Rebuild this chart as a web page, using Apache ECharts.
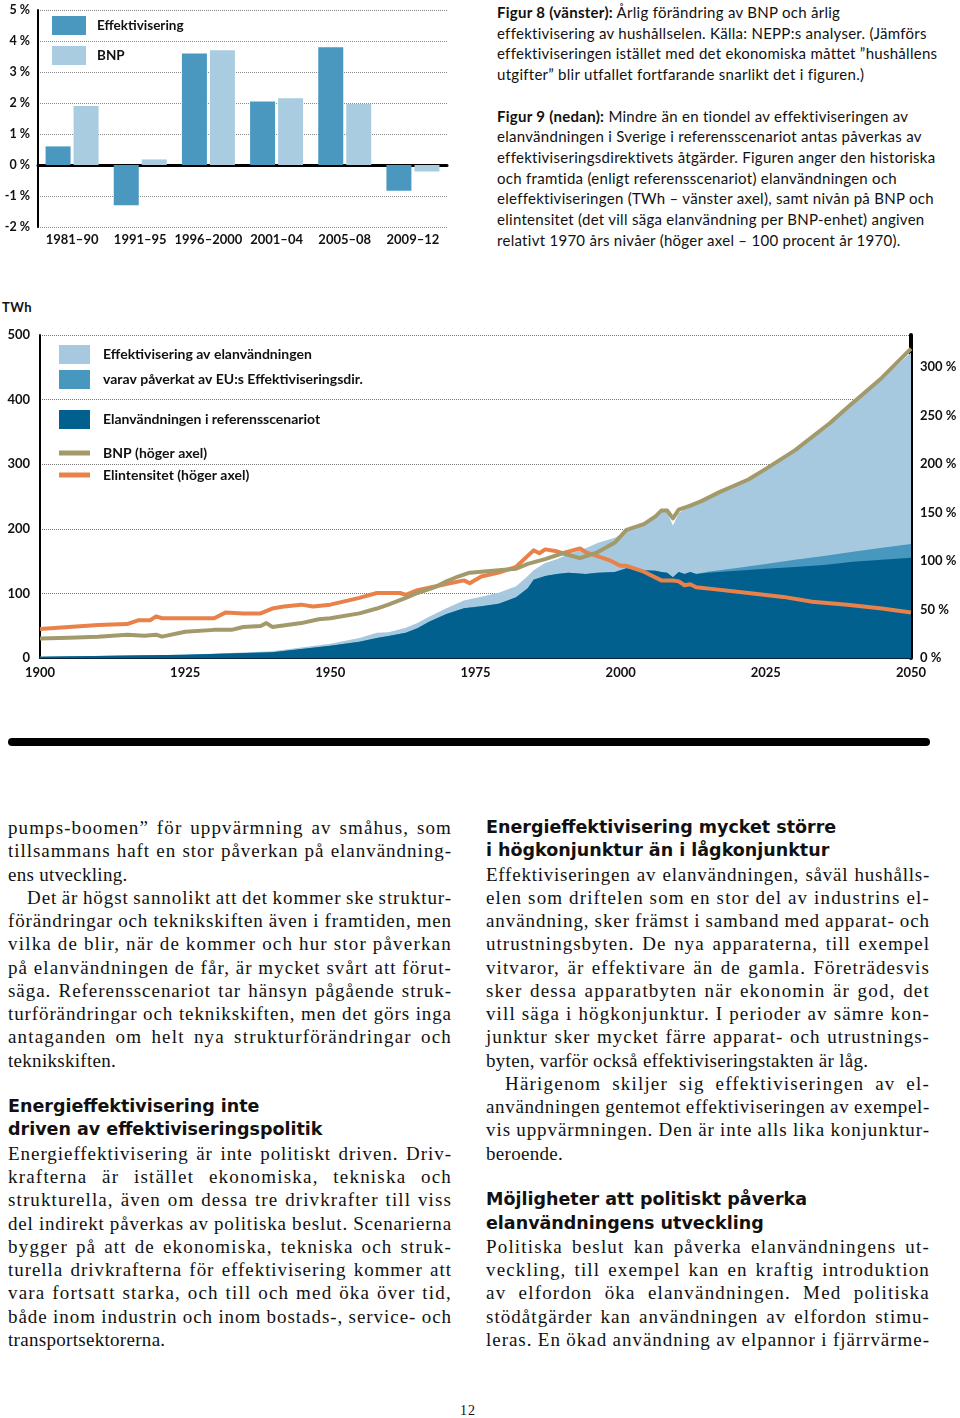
<!DOCTYPE html>
<html lang="sv">
<head>
<meta charset="UTF-8">
<title>Figur 8 och Figur 9</title>
<script src="https://cdn.jsdelivr.net/npm/echarts@6/dist/echarts.min.js"></script>
<style>
  body { margin: 0; width: 960px; height: 1418px; position: relative; background: #fff; color: #111; overflow: hidden; }
  #fig8 { position: absolute; left: 0; top: 0; width: 480px; height: 260px; }
  #fig9 { position: absolute; left: 0; top: 290px; width: 960px; height: 400px; }
  .cap { position: absolute; left: 497px; top: 2px; font-family: Lato; font-size: 15px; line-height: 20.7px; white-space: nowrap; letter-spacing: 0.28px; }
  .cap b { font-weight: 700; }
  #twh { position: absolute; left: 2px; top: 299px; font: 700 13px Lato; letter-spacing: 0.5px; }
  .rule { position: absolute; left: 8px; top: 738px; width: 922px; height: 8px; border-radius: 4px; background: #000; }
  .col { position: absolute; top: 816px; width: 444px; font-family: "Liberation Serif"; font-size: 19px; line-height: 23.27px; letter-spacing: 0.3px; }
  .ln { display: flex; justify-content: space-between; white-space: nowrap; height: 23.27px; }
  .ln.last { justify-content: flex-start; }
  .ln.ind { padding-left: 19px; }
  .h { font-family: "DejaVu Sans"; font-weight: 700; font-size: 17.5px; letter-spacing: 0; white-space: nowrap; height: 23.27px; }
  .pg { position: absolute; left: 460px; top: 1403px; font: 14px "Liberation Serif"; letter-spacing: 1px; }
</style>
</head>
<body>
<div id="fig8"></div>
<div class="cap">
<b>Figur 8 (vänster):</b> Årlig förändring av BNP och årlig<br>
effektivisering av hushållselen. Källa: NEPP:s analyser. (Jämförs<br>
effektiviseringen istället med det ekonomiska måttet ”hushållens<br>
utgifter” blir utfallet fortfarande snarlikt det i figuren.)<br>
<br>
<b>Figur 9 (nedan):</b> Mindre än en tiondel av effektiviseringen av<br>
elanvändningen i Sverige i referensscenariot antas påverkas av<br>
effektiviseringsdirektivets åtgärder. Figuren anger den historiska<br>
och framtida (enligt referensscenariot) elanvändningen och<br>
eleffektiviseringen (TWh – vänster axel), samt nivån på BNP och<br>
elintensitet (det vill säga elanvändning per BNP-enhet) angiven<br>
relativt 1970 års nivåer (höger axel – 100 procent år 1970).
</div>
<div id="twh">TWh</div>
<div id="fig9"></div>
<div class="rule"></div>
<div class="col" id="colL" style="left:8px"></div>
<div class="col" id="colR" style="left:486px"></div>
<div class="pg">12</div>

<script>
  // Figur 8: årlig förändring (%)
  const periods = ["1981–90", "1991–95", "1996–2000", "2001–04", "2005–08", "2009–12"];
  const effChange = [0.6, -1.3, 3.6, 2.05, 3.8, -0.83];
  const bnpChange = [1.9, 0.18, 3.7, 2.15, 1.97, -0.21];

  // Figur 9: elanvändning och effektivisering (TWh, vänster axel)
  const areaYears = [1900, 1925, 1940, 1950, 1955, 1958, 1960, 1963, 1965, 1967,
    1970, 1973, 1976, 1979, 1982, 1984, 1985, 1987, 1989, 1991,
    1994, 1996, 1999, 2001, 2004, 2006, 2007, 2008, 2009, 2010,
    2011, 2012, 2013, 2015, 2020, 2025, 2030, 2035, 2040, 2045, 2050];
  const refUse = [2, 5, 9, 19, 25, 31, 34, 39, 46, 56,
    68, 77, 80, 84, 94, 108, 121, 127, 130, 132,
    130, 132, 133, 139, 136, 135, 133, 132, 125, 133,
    130, 133, 130, 132, 135, 138, 141, 144, 149, 152, 155];
  const effTotal = [0, 0, 1.5, 3, 6, 8, 6, 8, 8, 8,
    9, 12, 15, 17, 17, 19, 15, 20, 23, 29,
    40, 46, 53, 57, 73, 85, 94, 94, 80, 91,
    101, 102, 108, 115, 132, 154, 180, 212, 244, 279, 318];
  const effEU = [0, 0, 0, 0, 0, 0, 0, 0, 0, 0,
    0, 0, 0, 0, 0, 0, 0, 0, 0, 0,
    0, 0, 0, 0, 0, 0, 0, 0, 0, 0,
    0, 0, 0, 1.5, 4.5, 7.5, 11, 14, 15.5, 18.5, 21.5];

  // Figur 9: BNP och elintensitet (%, höger axel)
  const bnpYears = [1900, 1905, 1910, 1915, 1918, 1920, 1921, 1925, 1930, 1933,
    1935, 1938, 1939, 1940, 1945, 1948, 1950, 1955, 1958, 1960,
    1963, 1965, 1968, 1970, 1972, 1974, 1976, 1980, 1982, 1984,
    1987, 1990, 1993, 1996, 1999, 2001, 2004, 2006, 2007, 2008,
    2009, 2010, 2012, 2014, 2017, 2022, 2025, 2030, 2036, 2039, 2045, 2050];
  const bnpPct = [20, 21, 22, 24, 23, 24, 22, 27, 29, 29,
    32, 33, 36, 32, 36, 40, 41, 46, 51, 55,
    62, 67, 73, 79, 84, 88, 89, 91, 92, 97,
    102, 108, 103, 109, 119, 132, 138, 146, 152, 152,
    144, 153, 157, 162, 171, 184, 195, 214, 242, 258, 289, 319];
  const intYears = [1900, 1905, 1910, 1915, 1917, 1919, 1920, 1921, 1925, 1930,
    1932, 1935, 1938, 1940, 1942, 1945, 1947, 1950, 1955, 1958,
    1960, 1962, 1963, 1965, 1969, 1973, 1974, 1976, 1979, 1982,
    1985, 1986, 1987, 1989, 1990, 1993, 1994, 1996, 1998, 2000,
    2001, 2004, 2007, 2009, 2010, 2011, 2012, 2013, 2016, 2022,
    2028, 2033, 2039, 2045, 2050];
  const intPct = [30, 32, 34, 35, 39, 39, 43, 41, 41, 41,
    47, 46, 46, 51, 53, 55, 53, 55, 62, 67,
    67, 67, 65, 70, 75, 80, 77, 84, 88, 94,
    111, 108, 112, 110, 108, 113, 109, 105, 101, 95,
    95, 89, 80, 80, 79, 75, 76, 73, 71, 67,
    63, 58, 55, 51, 47];

  const bold = { fontFamily: "Lato", fontWeight: 700, color: "#111" };

  // ---------- Figur 8 ----------
  const chart8 = echarts.init(document.getElementById("fig8"));
  chart8.setOption({
    animation: false,
    grid: { left: 38, right: 33, top: 10, bottom: 33 },
    legend: {
      orient: "vertical", left: 52, top: 16, padding: 0, itemWidth: 34, itemHeight: 19, itemGap: 11,
      icon: "rect", selectedMode: false,
      textStyle: Object.assign({ fontSize: 13.5, padding: [0, 0, 0, 6] }, bold),
      data: ["Effektivisering", "BNP"]
    },
    xAxis: [
      {
        type: "category", data: periods, position: "bottom",
        axisLine: { show: false, onZero: false }, axisTick: { show: false },
        axisLabel: Object.assign({ interval: 0, margin: 6, fontSize: 13 }, bold)
      },
      {
        type: "category", data: periods, position: "top",
        axisLine: { onZero: true, lineStyle: { color: "#000", width: 3 } },
        axisTick: { show: false }, axisLabel: { show: false }
      }
    ],
    yAxis: {
      type: "value", min: -2, max: 5, interval: 1,
      axisLine: { show: true, lineStyle: { color: "#000", width: 2 } },
      axisTick: { show: false },
      axisLabel: Object.assign({ formatter: (v) => v + " %", margin: 8, fontSize: 12.5 }, bold),
      splitLine: { lineStyle: { type: "dotted", color: "#888" } }
    },
    series: [
      { name: "Effektivisering", type: "bar", data: effChange, barWidth: 25, barGap: "12%", itemStyle: { color: "#4a98c0" } },
      { name: "BNP", type: "bar", data: bnpChange, barWidth: 25, itemStyle: { color: "#a9cce1" } }
    ]
  });

  // ---------- Figur 9 ----------
  const topTotal = areaYears.map((y, i) => [y, refUse[i] + effTotal[i]]);
  const topEU = areaYears.map((y, i) => [y, refUse[i] + effEU[i]]);
  const refLine = areaYears.map((y, i) => [y, refUse[i]]);

  const legText = Object.assign({ fontSize: 14, padding: [0, 0, 0, 8] }, bold);
  const areaSeries = (name, data, color, z) => ({
    name: name, type: "line", data: data, showSymbol: false, z: z,
    lineStyle: { width: 0 }, itemStyle: { color: color },
    areaStyle: { color: color, opacity: 1 }
  });
  const lineSeries = (name, years, vals, color, z) => ({
    name: name, type: "line", yAxisIndex: 1, showSymbol: false, z: z,
    data: years.map((y, i) => [y, vals[i]]),
    lineStyle: { width: 4, color: color, join: "round" }, itemStyle: { color: color }
  });

  const chart9 = echarts.init(document.getElementById("fig9"));
  chart9.setOption({
    animation: false,
    grid: { left: 40, right: 49, top: 45, bottom: 32 },
    legend: [
      {
        data: ["Effektivisering av elanvändningen", "varav påverkat av EU:s Effektiviseringsdir."],
        orient: "vertical", left: 59, top: 55, padding: 0, itemWidth: 31, itemHeight: 19, itemGap: 6,
        icon: "rect", selectedMode: false, textStyle: legText
      },
      {
        data: ["Elanvändningen i referensscenariot"],
        orient: "vertical", left: 59, top: 120, padding: 0, itemWidth: 31, itemHeight: 19,
        icon: "rect", selectedMode: false, textStyle: legText
      },
      {
        data: ["BNP (höger axel)", "Elintensitet (höger axel)"],
        orient: "vertical", left: 59, top: 155, padding: 0, itemWidth: 31, itemHeight: 5, itemGap: 6,
        icon: "rect", selectedMode: false, textStyle: Object.assign({ lineHeight: 16 }, legText)
      }
    ],
    xAxis: {
      type: "value", min: 1900, max: 2050, interval: 25,
      axisLine: { onZero: false, lineStyle: { color: "#0b2239", width: 2 } },
      axisTick: { show: false }, splitLine: { show: false },
      axisLabel: Object.assign({ formatter: (v) => String(v), margin: 8, fontSize: 13 }, bold)
    },
    yAxis: [
      {
        type: "value", min: 0, max: 500, interval: 100,
        axisLine: { show: true, lineStyle: { color: "#000", width: 2 } },
        axisTick: { show: false },
        axisLabel: Object.assign({ margin: 10, fontSize: 13 }, bold),
        splitLine: { lineStyle: { type: "dotted", color: "#777" } }
      },
      {
        type: "value", position: "right", min: 0, max: 333, interval: 50,
        axisLine: { show: true, lineStyle: { color: "#000", width: 4 } },
        axisTick: { show: false }, splitLine: { show: false },
        axisLabel: Object.assign({
          formatter: (v) => (v % 50 === 0 ? v + " %" : ""), showMaxLabel: false, margin: 9, fontSize: 13
        }, bold)
      }
    ],
    series: [
      areaSeries("Effektivisering av elanvändningen", topTotal, "#a7c9df", 1),
      areaSeries("varav påverkat av EU:s Effektiviseringsdir.", topEU, "#4797bf", 2),
      areaSeries("Elanvändningen i referensscenariot", refLine, "#01608d", 3),
      lineSeries("Elintensitet (höger axel)", intYears, intPct, "#e8824a", 4),
      lineSeries("BNP (höger axel)", bnpYears, bnpPct, "#a39a6b", 5)
    ]
  });

  // ---------- brödtext ----------
  // '#' rubrik, '>' indrag, '=' sista raden i stycket
  const leftLines = [
    "pumps-boomen” för uppvärmning av småhus, som",
    "tillsammans haft en stor påverkan på elanvändning-",
    "=ens utveckling.",
    ">Det är högst sannolikt att det kommer ske struktur-",
    "förändringar och teknikskiften även i framtiden, men",
    "vilka de blir, när de kommer och hur stor påverkan",
    "på elanvändningen de får, är mycket svårt att förut-",
    "säga. Referensscenariot tar hänsyn pågående struk-",
    "turförändringar och teknikskiften, men det görs inga",
    "antaganden om helt nya strukturförändringar och",
    "=teknikskiften.",
    "",
    "#Energieffektivisering inte",
    "#driven av effektiviseringspolitik",
    "Energieffektivisering är inte politiskt driven. Driv-",
    "krafterna är istället ekonomiska, tekniska och",
    "strukturella, även om dessa tre drivkrafter till viss",
    "del indirekt påverkas av politiska beslut. Scenarierna",
    "bygger på att de ekonomiska, tekniska och struk-",
    "turella drivkrafterna för effektivisering kommer att",
    "vara fortsatt starka, och till och med öka över tid,",
    "både inom industrin och inom bostads-, service- och",
    "=transportsektorerna."
  ];
  const rightLines = [
    "#Energieffektivisering mycket större",
    "#i högkonjunktur än i lågkonjunktur",
    "Effektiviseringen av elanvändningen, såväl hushålls-",
    "elen som driftelen som en stor del av industrins el-",
    "användning, sker främst i samband med apparat- och",
    "utrustningsbyten. De nya apparaterna, till exempel",
    "vitvaror, är effektivare än de gamla. Företrädesvis",
    "sker dessa apparatbyten när ekonomin är god, det",
    "vill säga i högkonjunktur. I perioder av sämre kon-",
    "junktur sker mycket färre apparat- och utrustnings-",
    "=byten, varför också effektiviseringstakten är låg.",
    ">Härigenom skiljer sig effektiviseringen av el-",
    "användningen gentemot effektiviseringen av exempel-",
    "vis uppvärmningen. Den är inte alls lika konjunktur-",
    "=beroende.",
    "",
    "#Möjligheter att politiskt påverka",
    "#elanvändningens utveckling",
    "Politiska beslut kan påverka elanvändningens ut-",
    "veckling, till exempel kan en kraftig introduktion",
    "av elfordon öka elanvändningen. Med politiska",
    "stödåtgärder kan användningen av elfordon stimu-",
    "leras. En ökad användning av elpannor i fjärrvärme-"
  ];

  function fillColumn(el, lines) {
    const colWidth = el.clientWidth;
    lines.forEach((line) => {
      const row = document.createElement("div");
      if (line.startsWith("#")) {
        row.className = "h";
        row.textContent = line.slice(1);
        el.appendChild(row);
        return;
      }
      if (line.startsWith("=")) {
        row.className = "ln last";
        row.textContent = line.slice(1);
        el.appendChild(row);
        return;
      }
      row.className = "ln";
      let text = line;
      let avail = colWidth;
      if (text.startsWith(">")) {
        row.classList.add("ind");
        text = text.slice(1);
        avail -= 19;
      }
      text.split(" ").forEach((w, i, arr) => {
        const s = document.createElement("span");
        s.textContent = i < arr.length - 1 ? w + " " : w;
        row.appendChild(s);
      });
      el.appendChild(row);
      if (text.length === 0) return;
      // spread part of the slack as tracking, like the typeset page
      let natural = 0;
      for (const s of row.children) natural += s.getBoundingClientRect().width;
      const extra = avail - natural;
      const base = 0.3;
      const ls = extra < 0 ? base + extra / text.length : base + Math.min(0.9, (extra * 0.5) / text.length);
      row.style.letterSpacing = ls.toFixed(2) + "px";
    });
  }
  fillColumn(document.getElementById("colL"), leftLines);
  fillColumn(document.getElementById("colR"), rightLines);
</script>
</body>
</html>
